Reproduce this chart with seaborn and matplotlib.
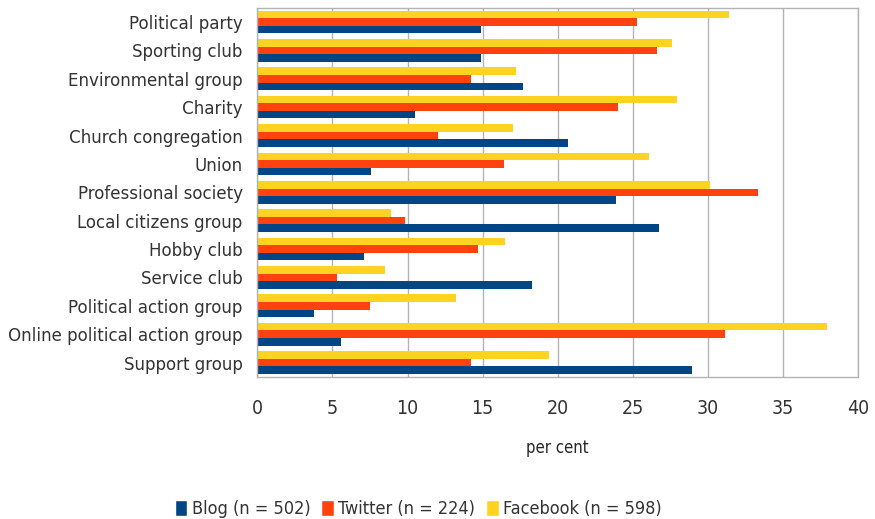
import matplotlib
matplotlib.use("Agg")
import matplotlib.pyplot as plt
import seaborn as sns
import pandas as pd
import numpy as np
from matplotlib.patches import Patch

categories = ["Political party", "Sporting club", "Environmental group", "Charity",
              "Church congregation", "Union", "Professional society",
              "Local citizens group", "Hobby club", "Service club",
              "Political action group", "Online political action group",
              "Support group"]
blog = [14.9, 14.9, 17.7, 10.5, 20.7, 7.6, 23.9, 26.7, 7.1, 18.3, 3.8, 5.6, 28.9]
twitter = [25.3, 26.6, 14.2, 24.0, 12.0, 16.4, 33.3, 9.8, 14.7, 5.3, 7.5, 31.1, 14.2]
facebook = [31.4, 27.6, 17.2, 27.9, 17.0, 26.1, 30.1, 8.9, 16.5, 8.5, 13.2, 37.9, 19.4]
series = ["Blog (n = 502)", "Twitter (n = 224)", "Facebook (n = 598)"]
colors = ["#004586", "#ff420e", "#ffd320"]

rows = []
for name, vals in zip(series, [blog, twitter, facebook]):
    for cat, v in zip(categories, vals):
        rows.append({"category": cat, "series": name, "value": v})
df = pd.DataFrame(rows)

sns.set_style("white")
plt.rcParams["font.family"] = ["DejaVu Sans"]
plt.rcParams["font.stretch"] = "condensed"
plt.rcParams["text.color"] = "#333333"
plt.rcParams["xtick.labelcolor"] = "#333333"
plt.rcParams["ytick.labelcolor"] = "#333333"

fig = plt.figure(figsize=(8.75, 5.19), dpi=100)
ax = fig.add_axes([0.294, 0.274, 0.687, 0.711])

palette = dict(zip(series, colors))
sns.barplot(data=df, x="value", y="category", hue="series", orient="h",
            hue_order=series[::-1], order=categories, palette=palette,
            width=0.8, gap=0, saturation=1, linewidth=0, legend=False, ax=ax)

ax.set_xlim(0, 40)
ax.set_xticks(range(0, 41, 5))
ax.xaxis.grid(True, color="#b3b3b3", linewidth=1)
ax.set_axisbelow(True)
for s in ax.spines.values():
    s.set_color("#b3b3b3")
    s.set_linewidth(1)
# category boundary ticks on the y axis
ax.set_yticks(np.arange(-0.5, len(categories), 1), minor=True)
ax.tick_params(axis="y", which="major", length=0, labelsize=13.3, pad=10.5)
ax.tick_params(axis="y", which="minor", length=6, color="#b3b3b3")
ax.tick_params(axis="x", length=6, color="#b3b3b3", labelsize=14, pad=10)
ax.set_ylabel("")
ax.set_xlabel("per cent", fontsize=12, labelpad=15)

handles = [Patch(facecolor=c, label=s) for s, c in zip(series, colors)]
fig.legend(handles=handles, loc="lower center", bbox_to_anchor=(0.478, -0.03),
           ncol=3, frameon=False, fontsize=13, handlelength=0.7, handleheight=0.95,
           handletextpad=0.25, columnspacing=0.6)

fig.savefig("out.png", dpi=100)
